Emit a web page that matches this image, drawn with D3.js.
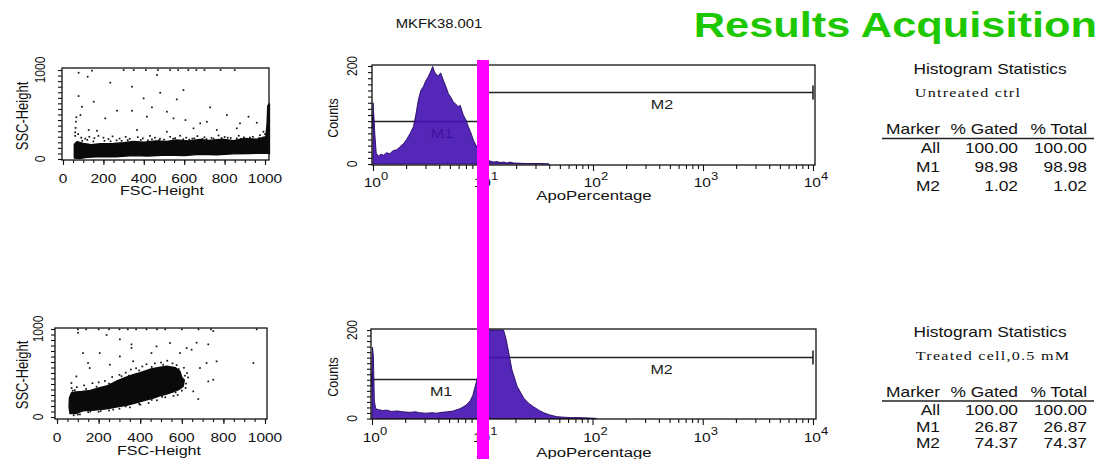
<!DOCTYPE html>
<html>
<head>
<meta charset="utf-8" />
<script src="https://cdnjs.cloudflare.com/ajax/libs/d3/7.8.5/d3.min.js"></script>
<title>Results Acquisition</title>
<style>
    body { margin: 0; background: #fff; }
    svg { display: block; font-family: "Liberation Sans", Arial, sans-serif; }
</style>
</head>
<body>
<script>
    // ---------- data ----------
    var pageTitle = "Results Acquisition";
    var sampleName = "MKFK38.001";
    var scatterTicks = [0, 200, 400, 600, 800, 1000];
    var decades = [1, 10, 100, 1000, 10000];
    var decadeExp = ["0", "1", "2", "3", "4"];
    var countTicks = [0, 200];

    // untreated control: ApoPercentage channel value -> counts
    var ctrlApo = [1.00, 1.02, 1.04, 1.07, 1.12, 1.18, 1.25, 1.33, 1.42, 1.52, 1.64, 1.76, 1.90, 2.02, 2.17,
        2.33, 2.45, 2.58, 2.72, 2.87, 3.02, 3.18, 3.36, 3.49, 3.62, 3.79, 3.95, 4.12, 4.36, 4.60, 4.84,
        5.10, 5.37, 5.65, 5.97, 6.20, 6.62, 7.00, 7.36, 7.75, 8.17, 8.87, 9.39, 10.0, 10.8, 11.6, 12.5,
        13.4, 14.3, 15.5, 16.5, 17.6, 19.0, 21.7, 25.0, 33.0, 40.0];
    var ctrlCounts = [125, 95, 60, 22, 16, 20, 18, 23, 21, 27, 29, 35, 42, 50, 62,
        76, 100, 130, 150, 158, 170, 178, 190, 199, 188, 182, 180, 186, 171, 158, 144,
        136, 127, 122, 117, 120, 100, 90, 76, 64, 49, 33, 22, 14, 8, 6, 4,
        5, 3, 4, 2, 4, 2, 1.5, 1, 1, 0];

    // treated cells 0.5 mM
    var treatApo = [1.00, 1.01, 1.03, 1.05, 1.08, 1.15, 1.25, 1.35, 1.50, 1.70, 1.91, 2.20, 2.50, 2.71,
        3.10, 3.50, 3.84, 4.30, 4.80, 5.45, 5.90, 6.27, 6.80, 7.20, 7.78, 8.20, 8.64, 9.00, 9.50, 10.2,
        10.8, 11.4, 13.5, 15.6, 16.5, 17.4, 18.6, 20.7, 23.8, 26.5, 29.3, 33.0, 36.1, 41.0, 47.7, 55.0,
        63.0, 75.0, 96.0, 110];
    var treatCounts = [130, 161, 140, 40, 22, 20, 18, 19, 16, 17, 15, 14, 15, 13,
        12, 13, 12, 14, 15, 17, 20, 22, 27, 31, 40, 52, 73, 90, 120, 165,
        200, 200, 200, 200, 178, 148, 110, 73, 46, 34, 26, 18, 13, 8, 4, 3,
        2, 2, 1, 0];

    // markers (ApoPercentage ranges)
    var markerNames = ["M1", "M2"];
    var markerFrom = [1, 10];
    var markerTo = [10, 10000];

    // FSC / SSC: dense cloud outline and sparse events
    var ctrlCloud = [[56, 10], [80, 4], [120, 18], [185, 28], [260, 26], [349, 38], [420, 33], [514, 44], [600, 40],
        [679, 52], [760, 48], [843, 58], [920, 62], [1000, 66], [1022, 60], [1022, 620], [1014, 600], [1010, 380],
        [1004, 250], [960, 222], [900, 232], [843, 205], [790, 222], [720, 208], [679, 220], [620, 204], [560, 214],
        [514, 198], [460, 204], [400, 188], [349, 198], [300, 182], [250, 176], [185, 172], [140, 162], [100, 176],
        [70, 196], [56, 165]];
    var ctrlDots = [[77, 970], [122, 925], [143, 993], [234, 858], [341, 813], [465, 944], [481, 745], [596, 775],
        [77, 708], [152, 644], [399, 682], [563, 670], [267, 543], [341, 543], [440, 581], [514, 532], [728, 581],
        [811, 494], [918, 476], [209, 457], [415, 476], [547, 457], [606, 438], [679, 401], [712, 419], [876, 401],
        [959, 408], [86, 494], [94, 588], [127, 326], [168, 318], [366, 326], [514, 307], [646, 345], [761, 326],
        [860, 345], [992, 307], [60, 260], [75, 280], [90, 240], [110, 230], [130, 250], [155, 235], [175, 260],
        [200, 240], [225, 225], [245, 255], [280, 230], [310, 250], [330, 228], [370, 245], [395, 232], [430, 260],
        [455, 240], [480, 228], [530, 250], [555, 235], [580, 262], [610, 240], [640, 230], [665, 258], [700, 245],
        [735, 238], [770, 265], [800, 248], [830, 236], [870, 262], [895, 244], [940, 250], [975, 268], [990, 240],
        [62, 350], [64, 420], [60, 300], [66, 470], [300, 1000], [350, 1000], [410, 1000], [470, 1000], [530, 1000],
        [570, 1000], [620, 1000], [660, 1000], [700, 1000], [780, 1000], [850, 1000],
        [95, 205], [150, 198], [205, 205], [265, 210], [320, 212], [385, 215], [440, 222], [500, 218], [545, 228],
        [595, 222], [650, 232], [690, 226], [745, 230], [815, 240], [860, 232], [925, 242], [970, 236], [1000, 280],
        [120, 215], [235, 200], [290, 205], [420, 210], [475, 212], [625, 218], [710, 224], [785, 236], [880, 228]];

    var treatCloud = [[62, 40], [90, 40], [125, 70], [180, 78], [238, 92], [290, 115], [334, 132], [380, 160],
        [414, 185], [460, 212], [494, 240], [530, 262], [559, 285], [590, 318], [607, 350], [612, 420], [600, 450],
        [591, 520], [570, 560], [527, 578], [490, 562], [446, 542], [400, 505], [366, 482], [320, 442], [286, 408],
        [240, 352], [205, 332], [160, 302], [120, 290], [90, 285], [70, 275], [60, 220], [58, 120]];
    var treatDots = [[101, 958], [238, 932], [302, 883], [358, 826], [358, 785], [671, 845], [727, 826], [751, 977],
        [944, 614], [751, 424], [679, 205], [655, 292], [719, 614], [767, 633], [454, 727], [478, 803], [543, 841],
        [125, 727], [205, 727], [157, 557], [149, 614], [93, 462], [591, 727], [623, 784], [647, 765], [687, 557],
        [727, 405], [69, 386], [254, 595], [366, 633], [302, 689], [70, 330], [95, 340], [130, 360], [170, 385],
        [200, 395], [230, 410], [265, 455], [300, 480], [330, 505], [355, 540], [380, 555], [410, 575], [430, 600],
        [470, 610], [500, 620], [530, 640], [555, 610], [575, 590], [610, 560], [625, 500], [630, 450], [620, 380],
        [600, 300], [580, 250], [560, 240], [520, 225], [480, 190], [440, 160], [400, 140], [350, 110], [300, 95],
        [250, 75], [200, 60], [150, 55], [110, 30], [80, 20], [100, 1000], [140, 1000], [200, 1000], [250, 1000],
        [300, 1000], [340, 1000], [380, 1000], [430, 1000], [480, 1000], [520, 1000], [600, 1000], [680, 1000],
        [740, 1000], [960, 1000],
        [85, 305], [140, 320], [190, 345], [250, 380], [310, 465], [345, 470], [395, 530], [455, 570], [510, 595],
        [585, 545], [615, 470], [618, 330], [570, 280], [505, 230], [455, 195], [395, 150], [330, 120], [270, 85],
        [210, 68], [160, 62], [100, 28], [75, 300]];

    // histogram statistics
    var statHeaders = ["Marker", "% Gated", "% Total"];
    var statRows = ["All", "M1", "M2"];
    var ctrlLabel = "Untreated ctrl";
    var ctrlGated = [100.00, 98.98, 1.02];
    var ctrlTotal = [100.00, 98.98, 1.02];
    var treatLabel = "Treated cell,0.5 mM";
    var treatGated = [100.00, 26.87, 74.37];
    var treatTotal = [100.00, 26.87, 74.37];

    // ---------- drawing ----------
    var SX = 1.24; // the picture is stretched sideways
    var svg = d3.select("body").append("svg").attr("width", 1101).attr("height", 459);
    svg.append("rect").attr("width", 1101).attr("height", 459).attr("fill", "#fff");

    function label(g, x, y, s, o) {
        o = o || {};
        var tf = "translate(" + x + "," + y + ") scale(" + SX + ",1)" + (o.rotate ? " rotate(-90)" : "");
        return g.append("text")
            .attr("transform", tf)
            .attr("text-anchor", o.anchor || "middle")
            .attr("font-size", o.size || 13)
            .attr("font-weight", o.weight || "normal")
            .attr("font-family", o.family || null)
            .attr("letter-spacing", o.spacing || null)
            .attr("fill", o.fill || "#111")
            .text(s);
    }

    function drawScatter(p, cloud, dots) {
        var g = svg.append("g");
        var x = d3.scaleLinear().domain([0, 1000]).range([p.x0, p.x1]);
        var y = d3.scaleLinear().domain([0, 1000]).range([p.y0, p.y1]);

        g.append("path")
            .attr("d", d3.line().x(function(d) { return x(d[0]); }).y(function(d) { return y(d[1]); })
                .curve(d3.curveLinearClosed)(cloud))
            .attr("fill", "#0a0a0a")
            .attr("stroke", "#0a0a0a")
            .attr("stroke-width", 1.4)
            .attr("stroke-linejoin", "round");
        g.selectAll("rect.ev").data(dots).enter().append("rect")
            .attr("class", "ev")
            .attr("x", function(d) { return x(d[0]) - 0.8; })
            .attr("y", function(d) { return Math.max(p.top + 0.5, y(d[1]) - 0.8); })
            .attr("width", 1.7).attr("height", 1.7)
            .attr("fill", "#111");

        g.append("rect")
            .attr("x", p.left).attr("y", p.top)
            .attr("width", p.right - p.left).attr("height", p.bottom - p.top)
            .attr("fill", "none").attr("stroke", "#111").attr("stroke-width", 1.3);

        // minor and major ticks
        var xa = g.append("g").attr("transform", "translate(0," + p.bottom + ")")
            .call(d3.axisBottom(x).tickValues(d3.range(0, 1001, 50)).tickSize(3).tickFormat(""));
        xa.select(".domain").remove();
        var xb = g.append("g").attr("transform", "translate(0," + p.bottom + ")")
            .call(d3.axisBottom(x).tickValues(scatterTicks).tickSize(5).tickFormat(""));
        xb.select(".domain").remove();
        var ya = g.append("g").attr("transform", "translate(" + p.left + ",0)")
            .call(d3.axisLeft(y).tickValues(d3.range(0, 1001, 62.5)).tickSize(4).tickFormat(""));
        ya.select(".domain").remove();
        g.selectAll(".tick line").attr("stroke", "#111").attr("stroke-width", 1.1);

        scatterTicks.forEach(function(t) {
            label(g, x(t), p.xLabY, t, { size: 12.5 });
        });
        label(g, p.ylabX, y(1000), "1000", { size: 12, rotate: true });
        label(g, p.ylabX, y(0), "0", { size: 12, rotate: true });
        label(g, (p.x0 + p.x1) / 2 - 2, p.xTitleY, "FSC-Height", { size: 13 });
        label(g, 28, p.yTitleY, "SSC-Height", { size: 13, rotate: true });
    }

    function drawHist(p, apo, counts, levels) {
        var g = svg.append("g");
        var x = d3.scaleLog().domain([1, 1e4]).range([p.x0, p.x1]);
        var y = d3.scaleLinear().domain([0, 200]).range([p.y0, p.y1]).clamp(true);

        // markers and their labels go under the (slightly see-through) histogram
        markerNames.forEach(function(m, i) {
            var yy = Math.round(y(levels[i])) + 0.5;
            var xa = x(markerFrom[i]), xb = Math.min(x(markerTo[i]), p.right);
            g.append("line").attr("x1", xa).attr("x2", xb).attr("y1", yy).attr("y2", yy)
                .attr("stroke", "#222").attr("stroke-width", 1.3);
            [xa, xb].forEach(function(xx) {
                g.append("line").attr("x1", xx).attr("x2", xx).attr("y1", yy - 7).attr("y2", yy + 7)
                    .attr("stroke", "#222").attr("stroke-width", 1.6);
            });
            var mid = x(Math.sqrt(markerFrom[i] * markerTo[i])) + 14;
            label(g, mid, yy + 16, m, { size: 13, fill: "#1a1a1a" });
        });

        var data = d3.zip(apo, counts);
        g.append("path")
            .attr("d", d3.area()
                .x(function(d) { return x(d[0]); })
                .y0(y(0))
                .y1(function(d) { return y(d[1]); })
                .curve(d3.curveLinear)(data))
            .attr("fill", "#4210b0")
            .attr("fill-opacity", 0.9)
            .attr("stroke", "#250860")
            .attr("stroke-width", 0.9);

        g.append("rect")
            .attr("x", p.left).attr("y", p.top)
            .attr("width", p.right - p.left).attr("height", p.bottom - p.top)
            .attr("fill", "none").attr("stroke", "#111").attr("stroke-width", 1.3);

        var minor = [];
        decades.slice(0, 4).forEach(function(d) {
            for (var k = 2; k <= 9; k++) minor.push(d * k);
        });
        var xa = g.append("g").attr("transform", "translate(0," + p.bottom + ")")
            .call(d3.axisBottom(x).tickValues(minor).tickSize(4).tickFormat(""));
        xa.select(".domain").remove();
        var xb = g.append("g").attr("transform", "translate(0," + p.bottom + ")")
            .call(d3.axisBottom(x).tickValues(decades).tickSize(6).tickFormat(""));
        xb.select(".domain").remove();
        var ya = g.append("g").attr("transform", "translate(" + p.left + ",0)")
            .call(d3.axisLeft(y).tickValues(d3.range(0, 201, 12.5)).tickSize(4).tickFormat(""));
        ya.select(".domain").remove();
        g.selectAll(".tick line").attr("stroke", "#111").attr("stroke-width", 1.1);

        decades.forEach(function(d, i) {
            var t = label(g, x(d) + 3, p.xLabY, "", { size: 12.5 });
            t.append("tspan").text("10");
            t.append("tspan").attr("dy", -7).attr("font-size", 10.5).text(decadeExp[i]);
        });
        countTicks.forEach(function(c) {
            label(g, 357, y(c), c, { size: 12, rotate: true });
        });
        label(g, 338, p.yTitleY, "Counts", { size: 12.5, rotate: true });
        label(g, 594, p.xTitleY, "ApoPercentage", { size: 13.5 });
    }

    function drawStats(p, name, gated, total) {
        var g = svg.append("g");
        label(g, 990, p.titleY, "Histogram Statistics", { size: 14 });
        label(g, p.nameX, p.nameY, name, { size: 13, family: "'Liberation Serif', 'Times New Roman', serif", spacing: 1.0 });
        var colRight = [940, 1018, 1087];
        statHeaders.forEach(function(h, i) {
            label(g, colRight[i], p.headY, h, { size: 14, anchor: "end" });
        });
        g.append("line").attr("x1", 882).attr("x2", 1094).attr("y1", p.lineY).attr("y2", p.lineY)
            .attr("stroke", "#222").attr("stroke-width", 1.3);
        statRows.forEach(function(r, i) {
            var yy = p.rowY[i];
            label(g, colRight[0], yy, r, { size: 14, anchor: "end" });
            label(g, colRight[1], yy, gated[i].toFixed(2), { size: 14, anchor: "end" });
            label(g, colRight[2], yy, total[i].toFixed(2), { size: 14, anchor: "end" });
        });
    }

    // top row: untreated control
    drawScatter({ left: 62, right: 269, top: 68, bottom: 160, x0: 63, x1: 265, y0: 159, y1: 70,
        xLabY: 183, xTitleY: 195, ylabX: 45, yTitleY: 116 }, ctrlCloud, ctrlDots);
    drawHist({ left: 372, right: 815, top: 65, bottom: 165, x0: 373, x1: 813, y0: 164, y1: 66,
        xLabY: 187, xTitleY: 200, yTitleY: 118 }, ctrlApo, ctrlCounts, [88, 147]);
    drawStats({ titleY: 74, nameX: 968, nameY: 97, headY: 134, lineY: 138.5, rowY: [153, 172, 191] },
        ctrlLabel, ctrlGated, ctrlTotal);

    // bottom row: treated cells
    drawScatter({ left: 55, right: 267, top: 328, bottom: 419, x0: 57, x1: 265, y0: 417, y1: 329,
        xLabY: 442, xTitleY: 455, ylabX: 43, yTitleY: 375 }, treatCloud, treatDots);
    drawHist({ left: 371, right: 816, top: 329, bottom: 419, x0: 372, x1: 813, y0: 418.5, y1: 330,
        xLabY: 442, xTitleY: 457, yTitleY: 377 }, treatApo, treatCounts, [90, 139]);
    drawStats({ titleY: 337, nameX: 993, nameY: 360, headY: 397, lineY: 401, rowY: [415, 432, 448] },
        treatLabel, treatGated, treatTotal);

    // sample name and page title
    label(svg, 439, 28, sampleName, { size: 12 });
    label(svg, 1097, 37, pageTitle, { size: 35, weight: "bold", anchor: "end", fill: "#1ec800" });

    // magenta gate line at 10^1 across both histograms
    var gx = d3.scaleLog().domain([1, 1e4]).range([373, 813]);
    svg.append("rect")
        .attr("x", gx(10) - 6).attr("y", 60)
        .attr("width", 12).attr("height", 399)
        .attr("fill", "#ff00ff");
</script>
</body>
</html>
